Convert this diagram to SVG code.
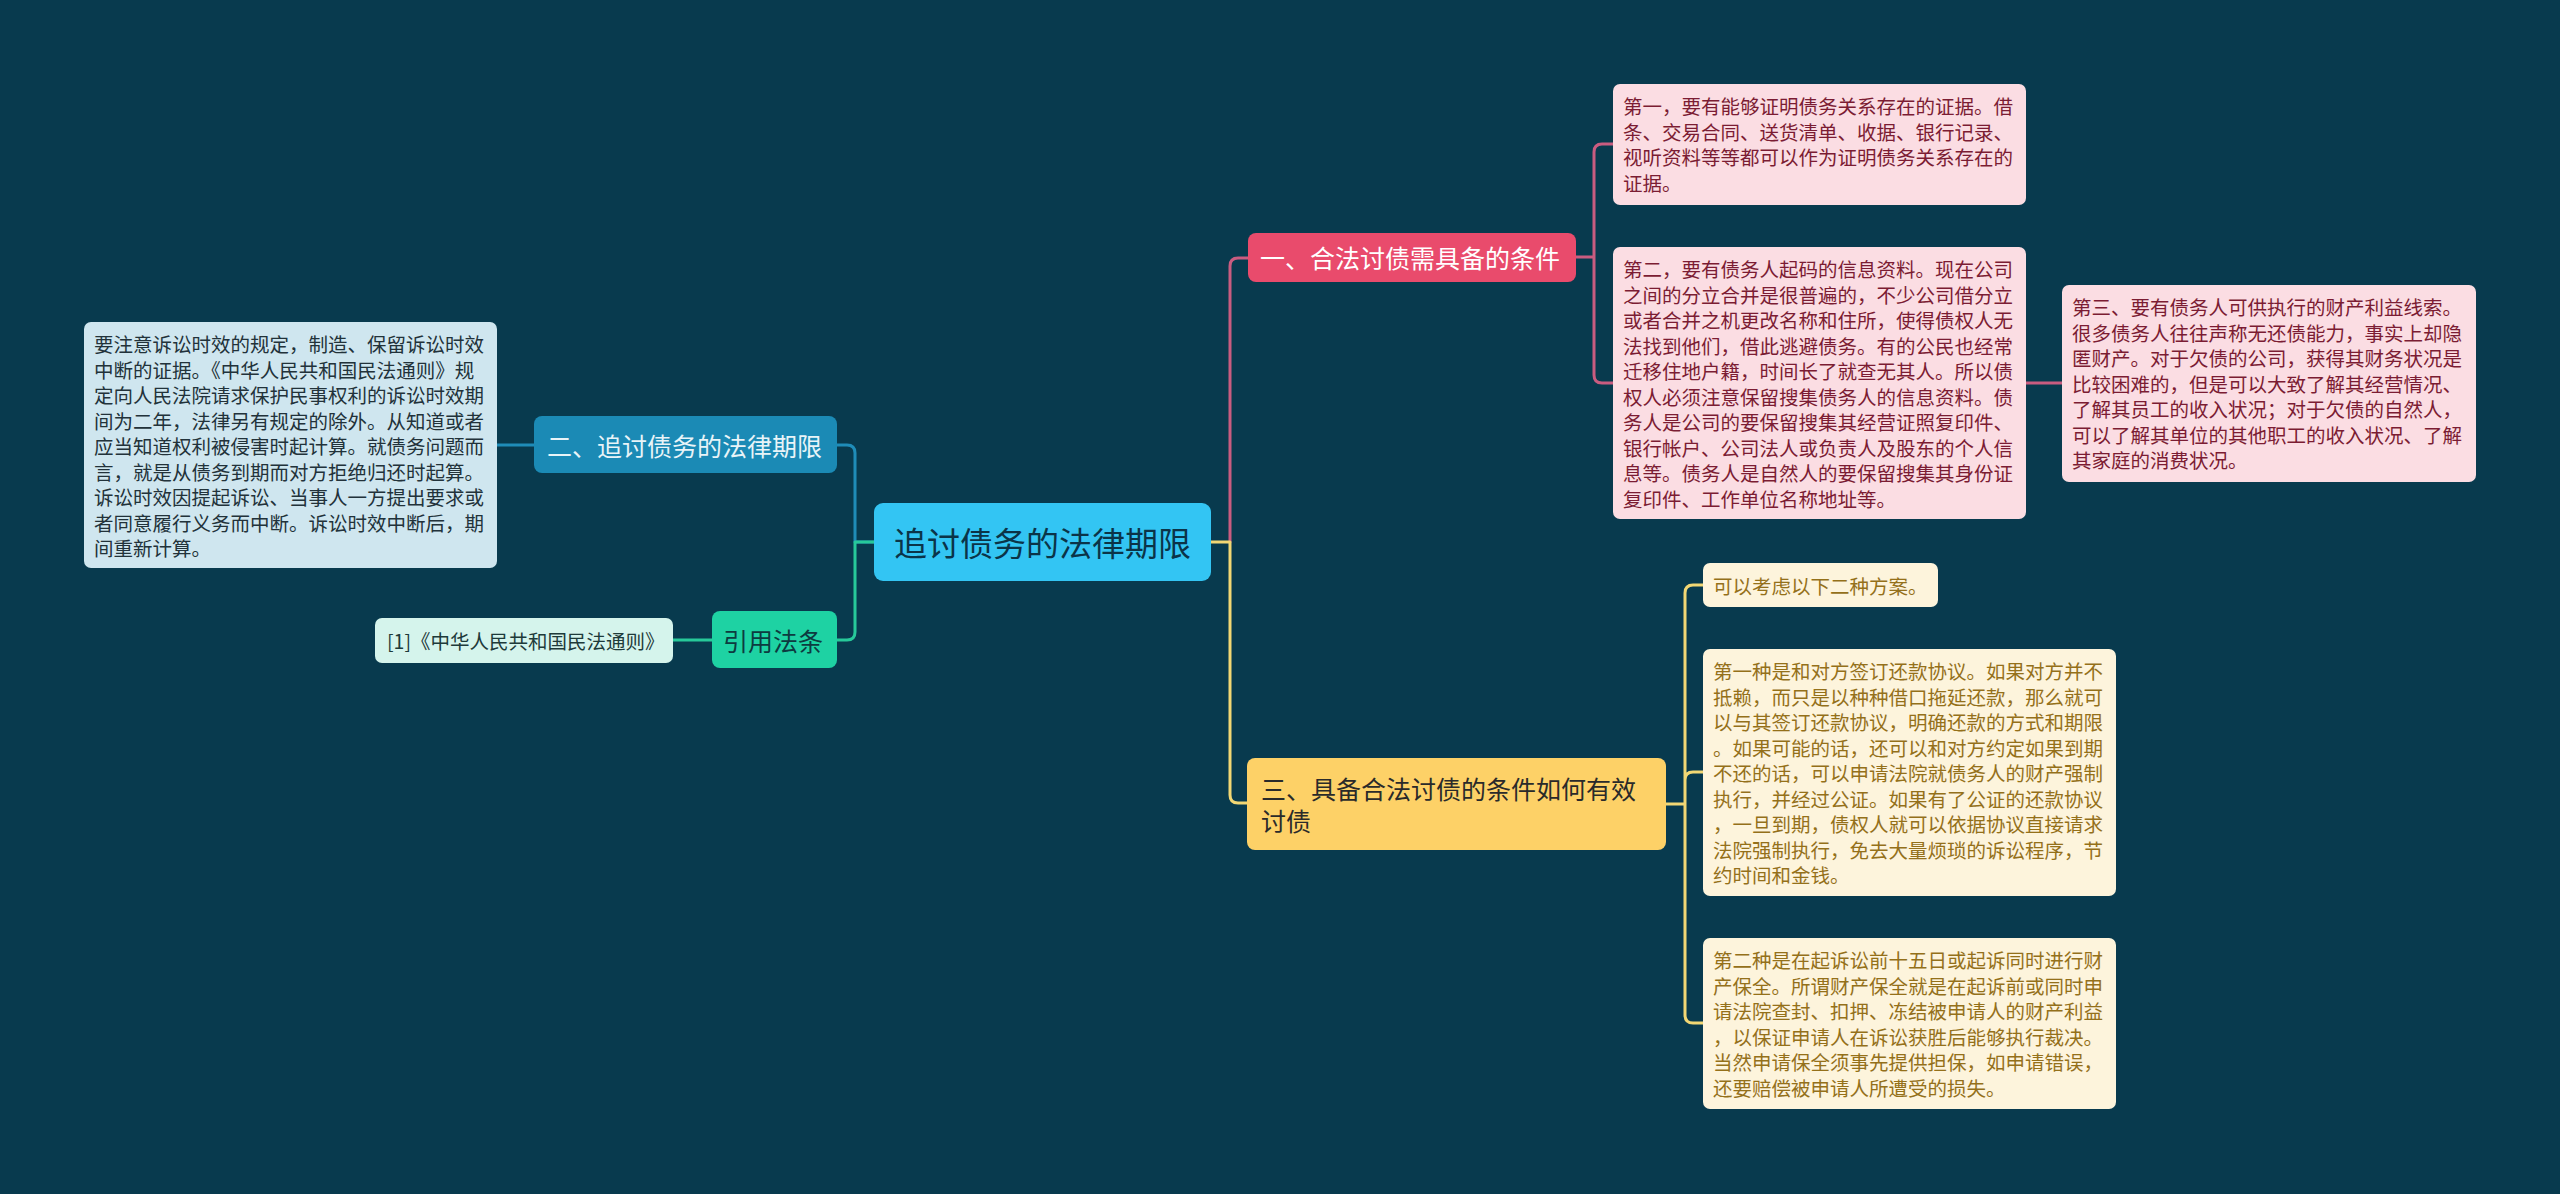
<svg xmlns="http://www.w3.org/2000/svg" width="2560" height="1194" viewBox="0 0 2560 1194">
<style>
text{font-family:"Noto Sans CJK SC","Noto Sans",sans-serif;font-kerning:none}
.c{fill:none;stroke-width:3;stroke-linecap:round;stroke-linejoin:round}
.pk{stroke:#c95c80}.yl{stroke:#f2d774}.bl{stroke:#1f8cb8}.gr{stroke:#27c99a}
.leaf{font-size:19.5px}
.pl rect{fill:#fbdde3}.pl text{fill:#7b1c33}
.yleaf rect{fill:#fdf4dc}.yleaf text{fill:#94701a}
.bleaf rect{fill:#cfe6ef}.bleaf text{fill:#22323a}
.gleaf rect{fill:#d5f4ec}.gleaf text{fill:#1e3a3a}
.mid{font-size:25px}
</style>
<rect width="2560" height="1194" fill="#083a4e"/>
<g id="connectors">
<path class="c pk" d="M1230 542 V266 Q1230 258 1238 258 H1248"/>
<path class="c yl" d="M1211 542 H1230 V795 Q1230 803 1238 803 H1247"/>
<path class="c pk" d="M1576 257 H1594 M1594 257 V152 Q1594 144 1602 144 H1613 M1594 257 V375 Q1594 383 1602 383 H1613"/>
<path class="c pk" d="M2026 383 H2062"/>
<path class="c bl" d="M874 542 H855 V453 Q855 445 847 445 H837 M534 445 H497"/>
<path class="c gr" d="M874 542 H855 V632 Q855 640 847 640 H837 M712 640 H673"/>
<path class="c yl" d="M1666 804 H1685 M1685 804 V593 Q1685 585 1693 585 H1703 M1685 780 Q1685 772 1693 772 H1703 M1685 804 V1015 Q1685 1023 1693 1023 H1703"/>
</g>
<g id="root">
<rect x="874" y="503" width="337" height="78" rx="9" fill="#33c5f3"/>
<text x="1042.5" y="542" font-size="33" fill="#0b3448" text-anchor="middle" dominant-baseline="central">追讨债务的法律期限</text>
</g>
<g id="n1">
<rect x="1248" y="233" width="328" height="49" rx="8" fill="#e94b6c"/>
<text class="mid" x="1260" y="257" fill="#ffffff" dominant-baseline="central">一、合法讨债需具备的条件</text>
</g>
<g id="n3">
<rect x="1247" y="758" width="419" height="92" rx="8" fill="#fdd167"/>
<text class="mid" fill="#2a2a2a" dominant-baseline="central"><tspan x="1261" y="788">三、具备合法讨债的条件如何有效</tspan><tspan x="1261" y="820">讨债</tspan></text>
</g>
<g id="n2">
<rect x="534" y="416" width="303" height="57" rx="8" fill="#1b8ab5"/>
<text class="mid" x="547" y="445" fill="#e8f4f8" dominant-baseline="central">二、追讨债务的法律期限</text>
</g>
<g id="n4">
<rect x="712" y="611" width="125" height="57" rx="8" fill="#1ed2a3"/>
<text class="mid" x="723" y="640" fill="#0d3b40" dominant-baseline="central">引用法条</text>
</g>
<g id="leaf1" class="pl">
<rect x="1613" y="84" width="413" height="121" rx="7"/>
<text class="leaf"><tspan x="1623" y="114">第一，要有能够证明债务关系存在的证据。借</tspan><tspan x="1623" dy="25.5">条、交易合同、送货清单、收据、银行记录、</tspan><tspan x="1623" dy="25.5">视听资料等等都可以作为证明债务关系存在的</tspan><tspan x="1623" dy="25.5">证据。</tspan></text>
</g>
<g id="leaf2" class="pl">
<rect x="1613" y="247" width="413" height="272" rx="7"/>
<text class="leaf"><tspan x="1623" y="277">第二，要有债务人起码的信息资料。现在公司</tspan><tspan x="1623" dy="25.5">之间的分立合并是很普遍的，不少公司借分立</tspan><tspan x="1623" dy="25.5">或者合并之机更改名称和住所，使得债权人无</tspan><tspan x="1623" dy="25.5">法找到他们，借此逃避债务。有的公民也经常</tspan><tspan x="1623" dy="25.5">迁移住地户籍，时间长了就查无其人。所以债</tspan><tspan x="1623" dy="25.5">权人必须注意保留搜集债务人的信息资料。债</tspan><tspan x="1623" dy="25.5">务人是公司的要保留搜集其经营证照复印件、</tspan><tspan x="1623" dy="25.5">银行帐户、公司法人或负责人及股东的个人信</tspan><tspan x="1623" dy="25.5">息等。债务人是自然人的要保留搜集其身份证</tspan><tspan x="1623" dy="25.5">复印件、工作单位名称地址等。</tspan></text>
</g>
<g id="leaf3" class="pl">
<rect x="2062" y="285" width="414" height="197" rx="7"/>
<text class="leaf"><tspan x="2072" y="315">第三、要有债务人可供执行的财产利益线索。</tspan><tspan x="2072" dy="25.5">很多债务人往往声称无还债能力，事实上却隐</tspan><tspan x="2072" dy="25.5">匿财产。对于欠债的公司，获得其财务状况是</tspan><tspan x="2072" dy="25.5">比较困难的，但是可以大致了解其经营情况、</tspan><tspan x="2072" dy="25.5">了解其员工的收入状况；对于欠债的自然人，</tspan><tspan x="2072" dy="25.5">可以了解其单位的其他职工的收入状况、了解</tspan><tspan x="2072" dy="25.5">其家庭的消费状况。</tspan></text>
</g>
<g id="leaf4" class="bleaf">
<rect x="84" y="322" width="413" height="246" rx="7"/>
<text class="leaf"><tspan x="94" y="352">要注意诉讼时效的规定，制造、保留诉讼时效</tspan><tspan x="94" dy="25.5">中断的证据。《中华人民共和国民法通则》规</tspan><tspan x="94" dy="25.5">定向人民法院请求保护民事权利的诉讼时效期</tspan><tspan x="94" dy="25.5">间为二年，法律另有规定的除外。从知道或者</tspan><tspan x="94" dy="25.5">应当知道权利被侵害时起计算。就债务问题而</tspan><tspan x="94" dy="25.5">言，就是从债务到期而对方拒绝归还时起算。</tspan><tspan x="94" dy="25.5">诉讼时效因提起诉讼、当事人一方提出要求或</tspan><tspan x="94" dy="25.5">者同意履行义务而中断。诉讼时效中断后，期</tspan><tspan x="94" dy="25.5">间重新计算。</tspan></text>
</g>
<g id="leaf5" class="gleaf">
<rect x="375" y="618" width="298" height="45" rx="7"/>
<text class="leaf" x="387" y="640" dominant-baseline="central">[1]《中华人民共和国民法通则》</text>
</g>
<g id="leaf6" class="yleaf">
<rect x="1703" y="563" width="235" height="44" rx="7"/>
<text class="leaf" x="1713" y="585" dominant-baseline="central">可以考虑以下二种方案。</text>
</g>
<g id="leaf7" class="yleaf">
<rect x="1703" y="649" width="413" height="247" rx="7"/>
<text class="leaf"><tspan x="1713" y="679">第一种是和对方签订还款协议。如果对方并不</tspan><tspan x="1713" dy="25.5">抵赖，而只是以种种借口拖延还款，那么就可</tspan><tspan x="1713" dy="25.5">以与其签订还款协议，明确还款的方式和期限</tspan><tspan x="1713" dy="25.5">。如果可能的话，还可以和对方约定如果到期</tspan><tspan x="1713" dy="25.5">不还的话，可以申请法院就债务人的财产强制</tspan><tspan x="1713" dy="25.5">执行，并经过公证。如果有了公证的还款协议</tspan><tspan x="1713" dy="25.5">，一旦到期，债权人就可以依据协议直接请求</tspan><tspan x="1713" dy="25.5">法院强制执行，免去大量烦琐的诉讼程序，节</tspan><tspan x="1713" dy="25.5">约时间和金钱。</tspan></text>
</g>
<g id="leaf8" class="yleaf">
<rect x="1703" y="938" width="413" height="171" rx="7"/>
<text class="leaf"><tspan x="1713" y="968">第二种是在起诉讼前十五日或起诉同时进行财</tspan><tspan x="1713" dy="25.5">产保全。所谓财产保全就是在起诉前或同时申</tspan><tspan x="1713" dy="25.5">请法院查封、扣押、冻结被申请人的财产利益</tspan><tspan x="1713" dy="25.5">，以保证申请人在诉讼获胜后能够执行裁决。</tspan><tspan x="1713" dy="25.5">当然申请保全须事先提供担保，如申请错误，</tspan><tspan x="1713" dy="25.5">还要赔偿被申请人所遭受的损失。</tspan></text>
</g>
</svg>
